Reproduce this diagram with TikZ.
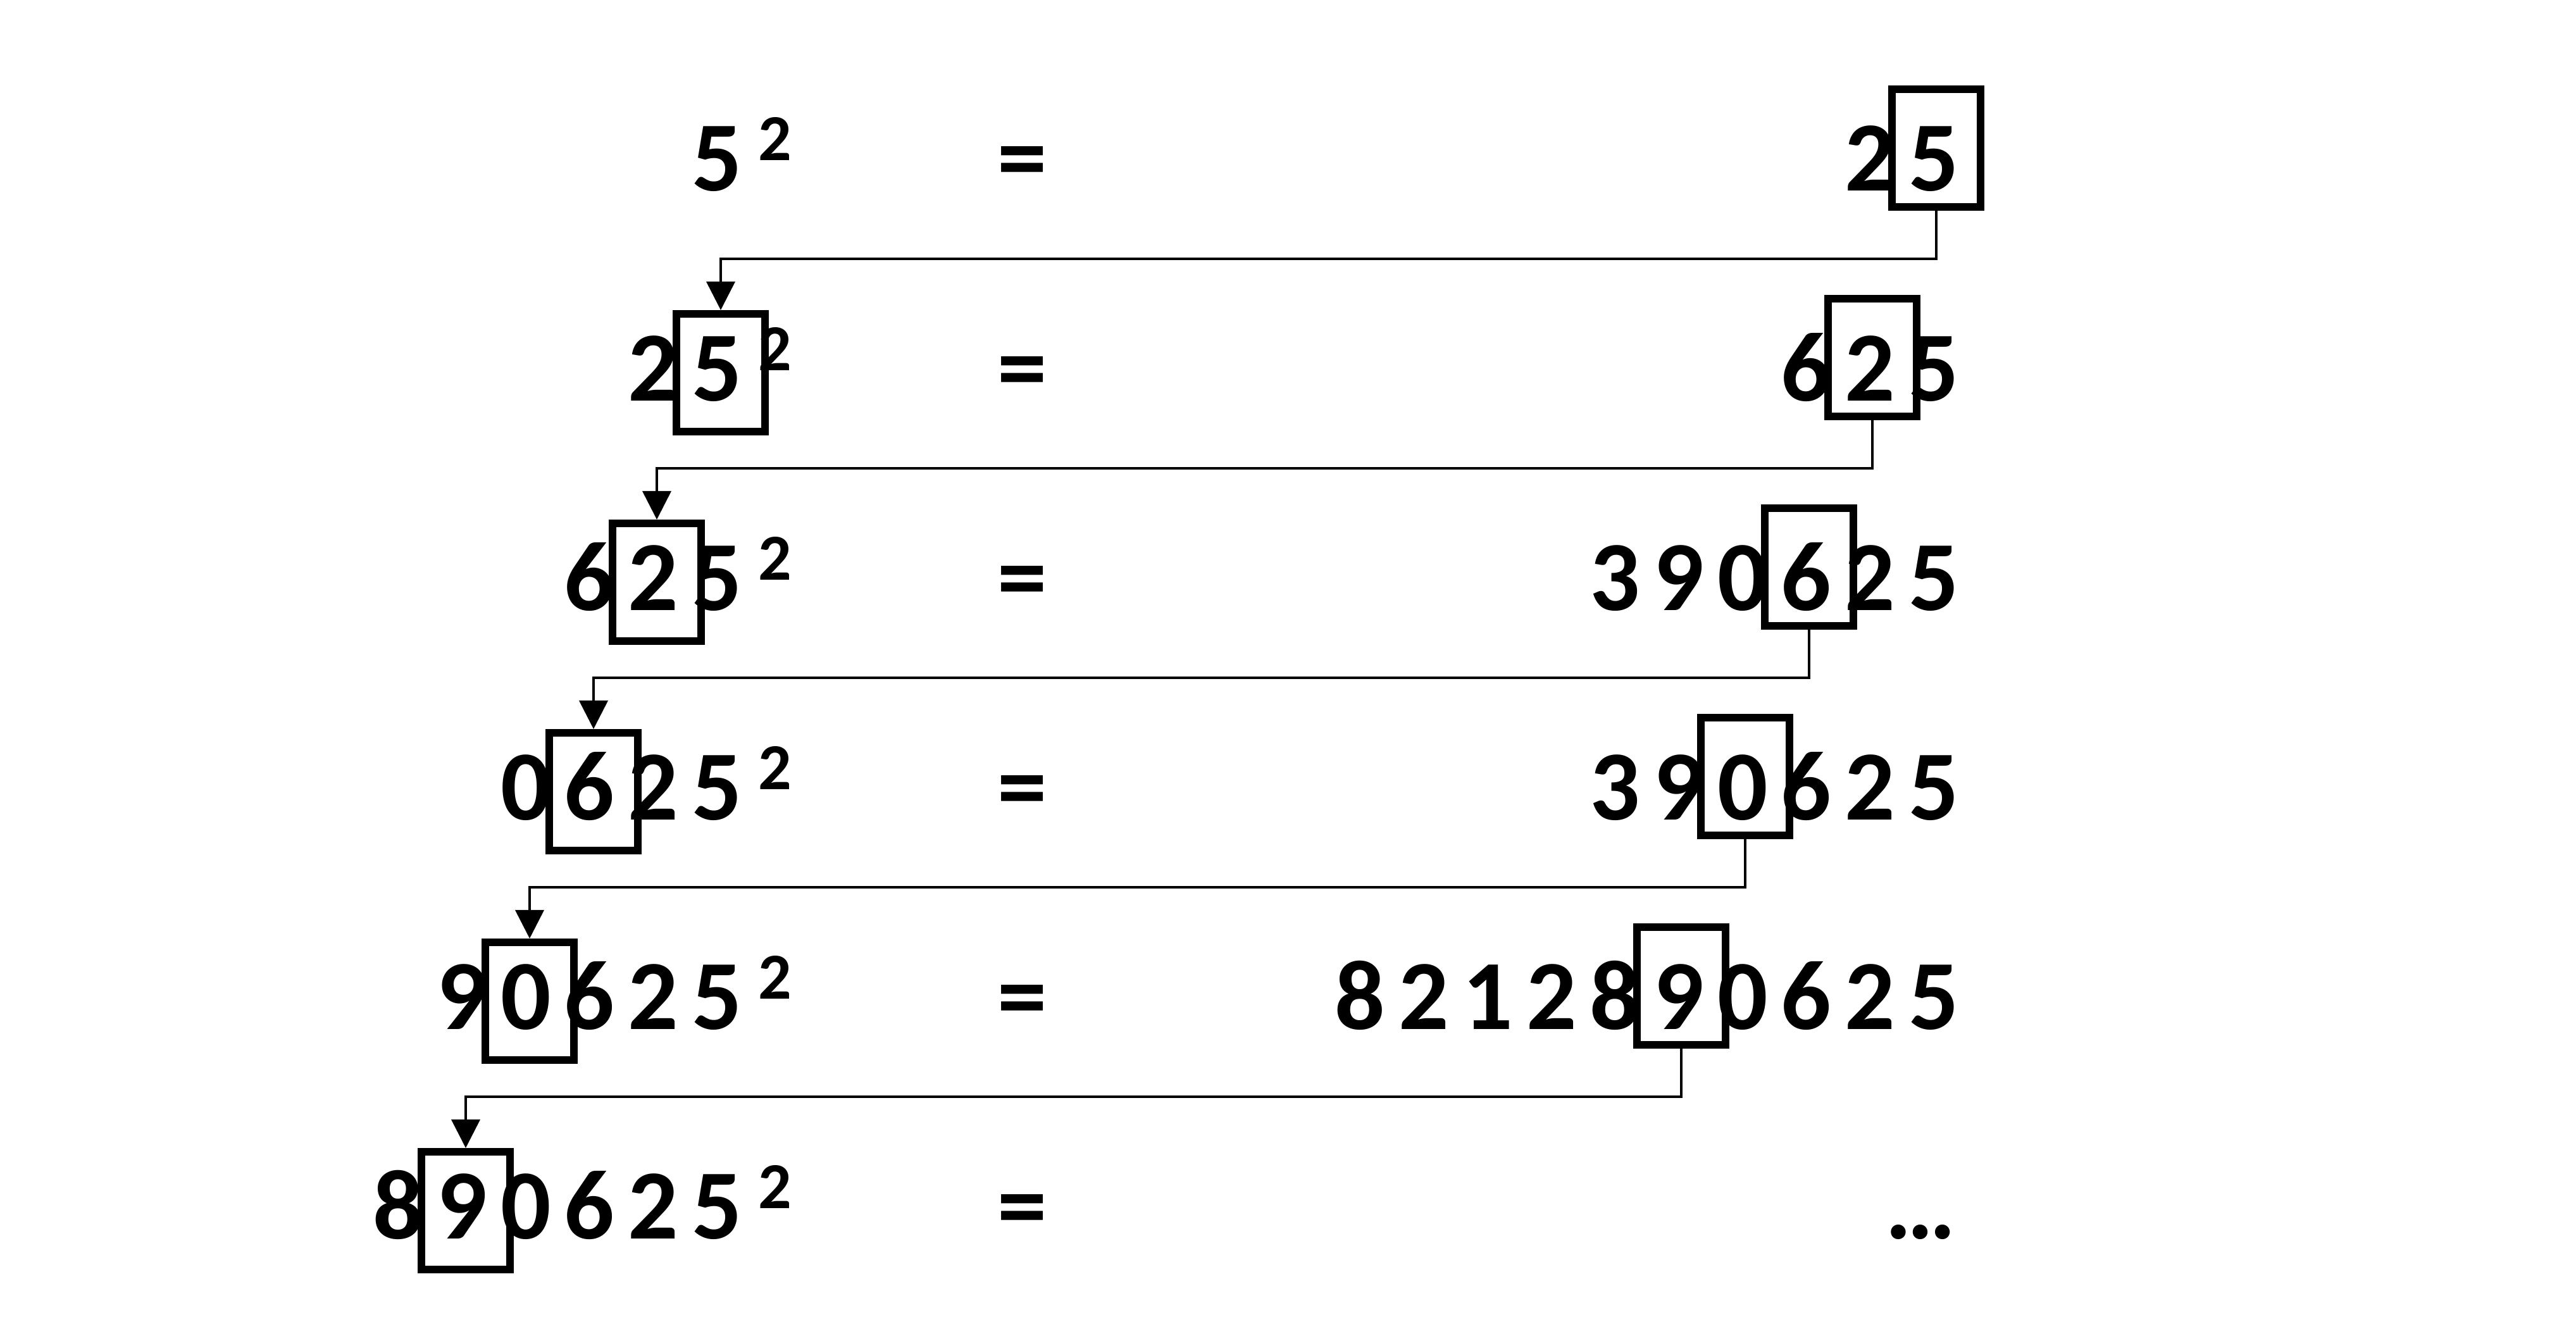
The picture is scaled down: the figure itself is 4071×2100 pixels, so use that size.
\documentclass[tikz,border=0pt]{standalone}
\usepackage{fontspec}
\setmainfont{Carlito}
\usetikzlibrary{arrows.meta,positioning}

\tikzset{
  num/.style={font=\fontsize{44.6}{50}\selectfont\bfseries, inner sep=0pt, anchor=base},
  sq/.style={font=\fontsize{29.5}{32}\selectfont\bfseries, inner sep=0pt, anchor=base},
  digitbox/.style={draw, line width=3.4pt, minimum width=1.40cm, minimum height=1.86cm, inner sep=0pt},
  link/.style={line width=1.1pt, -{Triangle[length=4.5mm,width=4.5mm]}},
}

\begin{document}
\begin{tikzpicture}[x=0.01cm, y=-0.01cm]
    \useasboundingbox (0,0) rectangle (4071,2100);

    % Row 1: 5^2 = 25
    \foreach \d [count=\k from 0] in {5} \node[num] (l1d\k) at ({1133-100.7*\k},302) {\d};
    \node[sq] (l1sq) at (1225,254) {2};
    \node[num] (eq1) at (1616,302) {=};
    \foreach \d [count=\k from 0] in {5,2} \node[num] (r1d\k) at ({3056-100.7*\k},302) {\d};
    \node[digitbox] (rbox1) at (3060,234) {};

    % Row 2: 25^2 = 625
    \foreach \d [count=\k from 0] in {5,2} \node[num] (l2d\k) at ({1133-100.7*\k},633) {\d};
    \node[sq] (l2sq) at (1225,585) {2};
    \node[num] (eq2) at (1616,633) {=};
    \foreach \d [count=\k from 0] in {5,2,6} \node[num] (r2d\k) at ({3056-100.7*\k},633) {\d};
    \node[digitbox] (lbox2) at (1139,589) {};
    \node[digitbox] (rbox2) at (2959,565) {};

    % Row 3: 625^2 = 390625
    \foreach \d [count=\k from 0] in {5,2,6} \node[num] (l3d\k) at ({1133-100.7*\k},964) {\d};
    \node[sq] (l3sq) at (1225,916) {2};
    \node[num] (eq3) at (1616,964) {=};
    \foreach \d [count=\k from 0] in {5,2,6,0,9,3} \node[num] (r3d\k) at ({3056-100.7*\k},964) {\d};
    \node[digitbox] (lbox3) at (1038,920) {};
    \node[digitbox] (rbox3) at (2859,896) {};

    % Row 4: 0625^2 = 390625
    \foreach \d [count=\k from 0] in {5,2,6,0} \node[num] (l4d\k) at ({1133-100.7*\k},1295) {\d};
    \node[sq] (l4sq) at (1225,1247) {2};
    \node[num] (eq4) at (1616,1295) {=};
    \foreach \d [count=\k from 0] in {5,2,6,0,9,3} \node[num] (r4d\k) at ({3056-100.7*\k},1295) {\d};
    \node[digitbox] (lbox4) at (938,1251) {};
    \node[digitbox] (rbox4) at (2758,1227) {};

    % Row 5: 90625^2 = 8212890625
    \foreach \d [count=\k from 0] in {5,2,6,0,9} \node[num] (l5d\k) at ({1133-100.7*\k},1626) {\d};
    \node[sq] (l5sq) at (1225,1578) {2};
    \node[num] (eq5) at (1616,1626) {=};
    \foreach \d [count=\k from 0] in {5,2,6,0,9,8,2,1,2,8} \node[num] (r5d\k) at ({3056-100.7*\k},1626) {\d};
    \node[digitbox] (lbox5) at (837,1582) {};
    \node[digitbox] (rbox5) at (2657,1558) {};

    % Row 6: 890625^2 = ...
    \foreach \d [count=\k from 0] in {5,2,6,0,9,8} \node[num] (l6d\k) at ({1133-100.7*\k},1957) {\d};
    \node[sq] (l6sq) at (1225,1909) {2};
    \node[num] (eq6) at (1616,1957) {=};
    \node[num, anchor=base east] (etc) at (3092,1957) {\dots};
    \node[digitbox] (lbox6) at (736,1913) {};

    % Carry the boxed digit down to the next row
    \draw[link] (rbox1.south) -- ++(0,76) -| (lbox2.north);
    \draw[link] (rbox2.south) -- ++(0,76) -| (lbox3.north);
    \draw[link] (rbox3.south) -- ++(0,76) -| (lbox4.north);
    \draw[link] (rbox4.south) -- ++(0,76) -| (lbox5.north);
    \draw[link] (rbox5.south) -- ++(0,76) -| (lbox6.north);
\end{tikzpicture}
\end{document}
